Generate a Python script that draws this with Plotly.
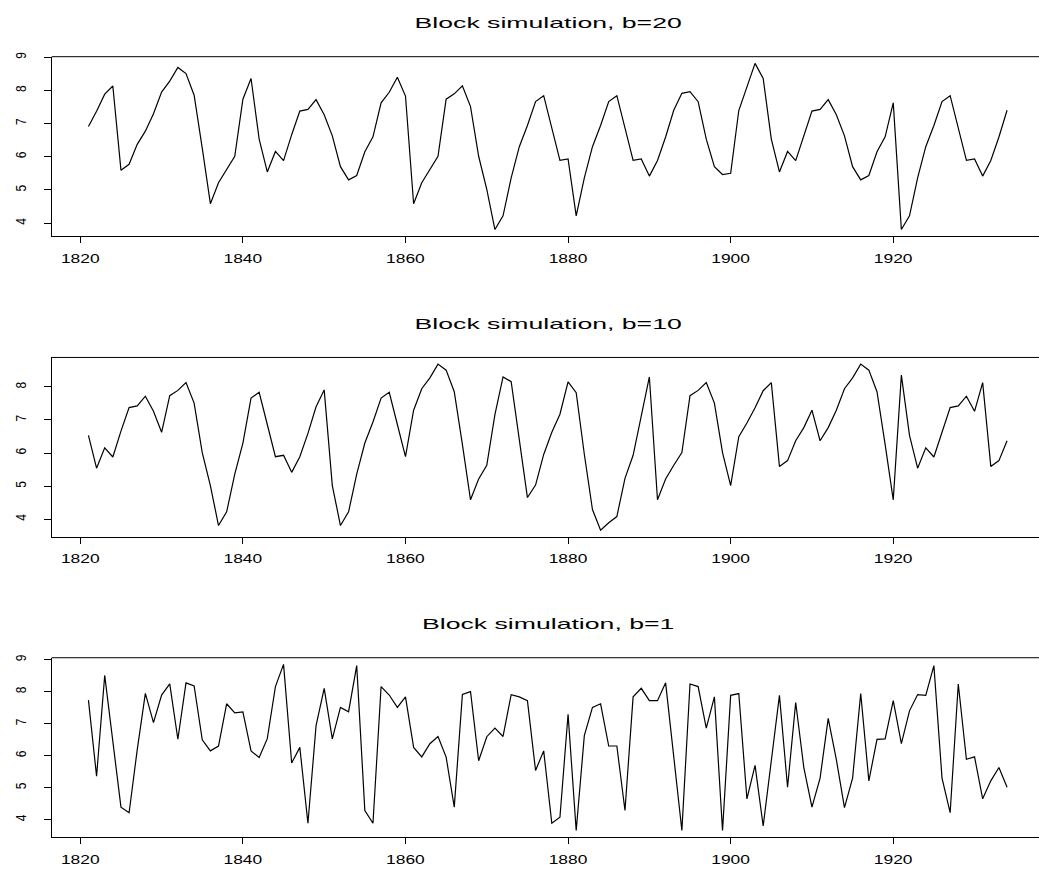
import plotly.graph_objects as go

# ---------------- data ----------------
years = list(range(1821, 1935))

b20 = [6.908, 7.371, 7.885, 8.130, 5.595, 5.771, 6.372, 6.770, 7.296, 7.945,
       8.276, 8.690, 8.507, 7.854, 6.260, 4.585, 5.215, 5.631, 6.014, 7.734,
       8.356, 6.532, 5.541, 6.159, 5.881, 6.664, 7.374, 7.424, 7.719, 7.263,
       6.628, 5.700, 5.303, 5.434, 6.151, 6.601, 7.622, 7.941, 8.396, 7.828,
       4.585, 5.215, 5.631, 6.014, 7.734, 7.895, 8.134, 7.509, 6.014, 5.017,
       3.807, 4.220, 5.361, 6.303, 6.940, 7.663, 7.838, 6.864, 5.889, 5.932,
       4.220, 5.361, 6.303, 6.940, 7.663, 7.838, 6.864, 5.889, 5.932, 5.416,
       5.886, 6.594, 7.401, 7.910, 7.962, 7.659, 6.528, 5.700, 5.464, 5.501,
       7.392, 8.105, 8.813, 8.356, 6.532, 5.541, 6.159, 5.881, 6.664, 7.374,
       7.424, 7.719, 7.263, 6.628, 5.700, 5.303, 5.434, 6.151, 6.601, 7.622,
       3.807, 4.220, 5.361, 6.303, 6.940, 7.663, 7.838, 6.864, 5.889, 5.932,
       5.416, 5.886, 6.594, 7.401]

b10 = [6.532, 5.541, 6.159, 5.881, 6.664, 7.374, 7.424, 7.719, 7.263, 6.628,
       7.734, 7.895, 8.134, 7.509, 6.014, 5.017, 3.807, 4.220, 5.361, 6.303,
       7.663, 7.838, 6.864, 5.889, 5.932, 5.416, 5.886, 6.594, 7.401, 7.910,
       5.017, 3.807, 4.220, 5.361, 6.303, 6.940, 7.663, 7.838, 6.864, 5.889,
       7.296, 7.945, 8.276, 8.690, 8.507, 7.854, 6.260, 4.585, 5.215, 5.631,
       7.164, 8.302, 8.159, 6.375, 4.654, 5.030, 5.958, 6.631, 7.175, 8.150,
       7.828, 5.964, 4.290, 3.664, 3.892, 4.078, 5.236, 5.932, 7.164, 8.302,
       4.585, 5.215, 5.631, 6.014, 7.734, 7.895, 8.134, 7.509, 6.014, 5.017,
       6.495, 6.908, 7.371, 7.885, 8.130, 5.595, 5.771, 6.372, 6.770, 7.296,
       6.372, 6.770, 7.296, 7.945, 8.276, 8.690, 8.507, 7.854, 6.260, 4.585,
       8.356, 6.532, 5.541, 6.159, 5.881, 6.664, 7.374, 7.424, 7.719, 7.263,
       8.130, 5.595, 5.771, 6.372]

b1 = [7.734, 5.361, 8.507, 6.372, 4.394, 4.220, 6.184, 7.945, 7.032, 7.895,
      8.241, 6.513, 8.276, 8.182, 6.495, 6.151, 6.303, 7.622, 7.338, 7.371,
      6.151, 5.945, 6.532, 8.159, 8.852, 5.771, 6.260, 3.892, 6.940, 8.105,
      6.528, 7.509, 7.374, 8.813, 4.290, 3.892, 8.159, 7.895, 7.509, 7.838,
      6.260, 5.964, 6.375, 6.601, 5.958, 4.394, 7.910, 8.001, 5.844, 6.594,
      6.864, 6.601, 7.906, 7.838, 7.719, 5.541, 6.151, 3.892, 4.078, 7.296,
      3.664, 6.628, 7.509, 7.622, 6.303, 6.303, 4.290, 7.838, 8.105, 7.719,
      7.719, 8.276, 6.014, 3.664, 8.241, 8.159, 6.864, 7.838, 3.664, 7.885,
      7.941, 4.654, 5.700, 3.807, 5.844, 7.885, 5.017, 7.663, 5.631, 4.394,
      5.303, 7.164, 5.881, 4.382, 5.303, 7.941, 5.215, 6.513, 6.528, 7.719,
      6.375, 7.401, 7.910, 7.885, 8.813, 5.303, 4.220, 8.241, 5.889, 5.964,
      4.654, 5.215, 5.631, 5.017]

titles = ["Block simulation, b=20", "Block simulation, b=10", "Block simulation, b=1"]
series = [b20, b10, b1]
x_ticks = [1820, 1840, 1860, 1880, 1900, 1920]

# ---------------- layout geometry (px) ----------------
W, H = 1039, 870
LEFT = 51.7
FULL_RIGHT = 1043.8          # R plot region extends past the image edge
BOX_TOPS = [52.0, 354.5, 656.5]
BOX_H = 180.5
FONT = "Liberation Sans, Arial, Helvetica, sans-serif"


def rpad(lo, hi):
    d = (hi - lo) * 0.04
    return lo - d, hi + d


xlo, xhi = rpad(min(years), max(years))
vis_frac = (W - LEFT) / (FULL_RIGHT - LEFT)
x_range = [xlo, xlo + (xhi - xlo) * vis_frac]

fig = go.Figure()
annotations = []
shapes = []

for i, (vals, title) in enumerate(zip(series, titles)):
    n = "" if i == 0 else str(i + 1)
    top = BOX_TOPS[i]
    dom_y = [1 - (top + BOX_H) / H, 1 - top / H]
    ylo, yhi = rpad(min(vals), max(vals))
    yt = [v for v in range(4, 10) if ylo <= v <= yhi]

    fig.add_trace(go.Scatter(
        x=years, y=vals, mode="lines",
        line=dict(color="black", width=1.2),
        xaxis="x" + n, yaxis="y" + n, showlegend=False, hoverinfo="skip"))

    fig.layout["xaxis" + n] = dict(
        domain=[LEFT / W, 1.0], range=x_range, anchor="y" + n,
        showgrid=False, zeroline=False, showline=True, linecolor="black",
        linewidth=1, ticks="outside", ticklen=6, tickcolor="black",
        tickwidth=1, tickvals=x_ticks, ticktext=[str(t) for t in x_ticks],
        tickfont=dict(family=FONT, size=12, color="black"),
        ticklabelstandoff=5)
    fig.layout["yaxis" + n] = dict(
        domain=dom_y, range=[ylo, yhi], anchor="x" + n,
        showgrid=False, zeroline=False, showline=True, linecolor="black",
        linewidth=1, ticks="outside", ticklen=7, tickcolor="black",
        tickwidth=1, tickvals=yt, ticktext=[str(v) for v in yt],
        tickangle=-90, tickfont=dict(family=FONT, size=12, color="black"),
        ticklabelstandoff=14)

    # top edge of the plot box
    shapes.append(dict(type="line", xref="x" + n + " domain", yref="y" + n + " domain",
                       x0=0, x1=1, y0=1, y1=1, line=dict(color="black", width=1)))

    annotations.append(dict(
        text=title, showarrow=False, xref="paper", yref="paper",
        x=((LEFT + FULL_RIGHT) / 2) / W, y=1 - (top - 34) / H,
        xanchor="center", yanchor="middle",
        font=dict(family=FONT, size=14.4, color="black")))

fig.update_layout(
    width=W, height=H, margin=dict(l=0, r=0, t=0, b=0),
    paper_bgcolor="white", plot_bgcolor="white",
    annotations=annotations, shapes=shapes, showlegend=False)

# Pin the figure to the page corner and widen the text horizontally,
# as the reference image is horizontally stretched.
post = """
document.body.style.margin = '0';
document.body.style.padding = '0';
var gd = document.getElementById('{plot_id}');
gd.style.position = 'absolute';
gd.style.left = '0px';
gd.style.top = '0px';
function widen(sel, sx, sy) {
  gd.querySelectorAll(sel).forEach(function (t) {
    var b = t.getBBox();
    var cx = b.x + b.width / 2, cy = b.y + b.height / 2;
    var tr = t.getAttribute('transform') || '';
    t.setAttribute('transform', tr + ' translate(' + cx + ',' + cy + ') scale(' + sx + ',' + sy +
                   ') translate(' + (-cx) + ',' + (-cy) + ')');
  });
}
widen('g.xtick text, g.x2tick text, g.x3tick text', 1.45, 1);
widen('g.ytick text, g.y2tick text, g.y3tick text', 1, 1.2);
widen('g.annotation text', 1.85, 1);
"""

fig.write_html("out.html", post_script=post, config={"displayModeBar": False})
